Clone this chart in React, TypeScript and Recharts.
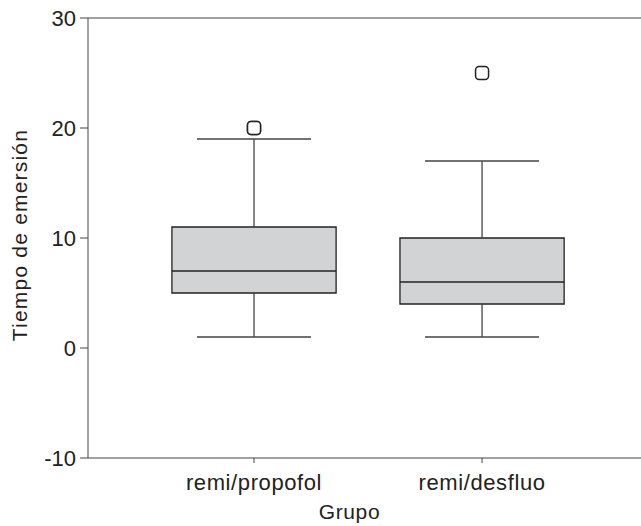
import { ComposedChart, XAxis, YAxis, Scatter, ReferenceArea, ReferenceLine } from 'recharts';

const groups = ['remi/propofol', 'remi/desfluo'];
const whiskerLow = [1, 1];
const q1 = [5, 4];
const median = [7, 6];
const q3 = [11, 10];
const whiskerHigh = [19, 17];
const outliers = [
  { x: 1, y: 20 },
  { x: 1, y: 20 },
  { x: 2, y: 25 },
];
const yTicks = [-10, 0, 10, 20, 30];

const BOX_HALF = 0.36;
const CAP_HALF = 0.25;
const INK = '#222';
const AXIS = '#444';
const FONT = 'Liberation Sans, Arial, sans-serif';

const OutlierMark = (props: any) => {
  const { cx, cy } = props;
  return (
    <rect x={cx - 6.5} y={cy - 6.5} width={13} height={13} rx={3.5} fill="#fff" stroke={INK} strokeWidth={1.5} />
  );
};

export default function App() {
  return (
    <div style={{ position: 'absolute', left: 0, top: 0, background: '#fff' }}>
      <ComposedChart width={641} height={526} margin={{ top: 18, right: 0, left: 0, bottom: 0 }}>
        <XAxis
          type="number"
          dataKey="x"
          domain={[0.272, 2.697]}
          ticks={[1, 2]}
          tickFormatter={(v: number) => groups[v - 1]}
          height={68}
          stroke={AXIS}
          tickSize={5}
          tickMargin={11}
          tick={{ fill: INK, fontSize: 22, fontFamily: FONT, letterSpacing: 0.6 }}
          allowDataOverflow
          label={{
            content: (p: any) => {
              const vb = p.viewBox;
              return (
                <text x={vb.x + vb.width / 2 - 15} y={519} textAnchor="middle" fill={INK} fontSize={21} fontFamily={FONT} letterSpacing={0.6}>
                  Grupo
                </text>
              );
            },
          }}
        />
        <YAxis
          type="number"
          dataKey="y"
          domain={[-10, 30]}
          ticks={yTicks}
          width={88}
          stroke={AXIS}
          tickSize={8}
          tickMargin={4}
          tick={{ fill: INK, fontSize: 22, fontFamily: FONT }}
          label={{
            content: (p: any) => {
              const vb = p.viewBox;
              const cy = vb.y + vb.height / 2 - 3;
              return (
                <text transform={`translate(27,${cy}) rotate(-90)`} textAnchor="middle" fill={INK} fontSize={21} fontFamily={FONT} letterSpacing={1.2}>
                  Tiempo de emersión
                </text>
              );
            },
          }}
        />
        <ReferenceLine y={30} stroke={AXIS} strokeWidth={1.2} />
        {groups.map((g, i) => {
          const c = i + 1;
          return (
            <ReferenceArea
              key={`box-${g}`}
              x1={c - BOX_HALF}
              x2={c + BOX_HALF}
              y1={q1[i]}
              y2={q3[i]}
              fill="#d2d3d5"
              fillOpacity={1}
              stroke={INK}
              strokeWidth={1.3}
            />
          );
        })}
        {groups.map((g, i) => {
          const c = i + 1;
          return [
            <ReferenceLine key={`med-${g}`} segment={[{ x: c - BOX_HALF, y: median[i] }, { x: c + BOX_HALF, y: median[i] }]} stroke={INK} strokeWidth={1.3} />,
            <ReferenceLine key={`up-${g}`} segment={[{ x: c, y: q3[i] }, { x: c, y: whiskerHigh[i] }]} stroke={AXIS} strokeWidth={1.3} />,
            <ReferenceLine key={`down-${g}`} segment={[{ x: c, y: q1[i] }, { x: c, y: whiskerLow[i] }]} stroke={AXIS} strokeWidth={1.3} />,
            <ReferenceLine key={`capu-${g}`} segment={[{ x: c - CAP_HALF, y: whiskerHigh[i] }, { x: c + CAP_HALF, y: whiskerHigh[i] }]} stroke={AXIS} strokeWidth={1.3} />,
            <ReferenceLine key={`capd-${g}`} segment={[{ x: c - CAP_HALF, y: whiskerLow[i] }, { x: c + CAP_HALF, y: whiskerLow[i] }]} stroke={AXIS} strokeWidth={1.3} />,
          ];
        })}
        <Scatter data={outliers} dataKey="y" shape={OutlierMark} isAnimationActive={false} />
      </ComposedChart>
    </div>
  );
}
